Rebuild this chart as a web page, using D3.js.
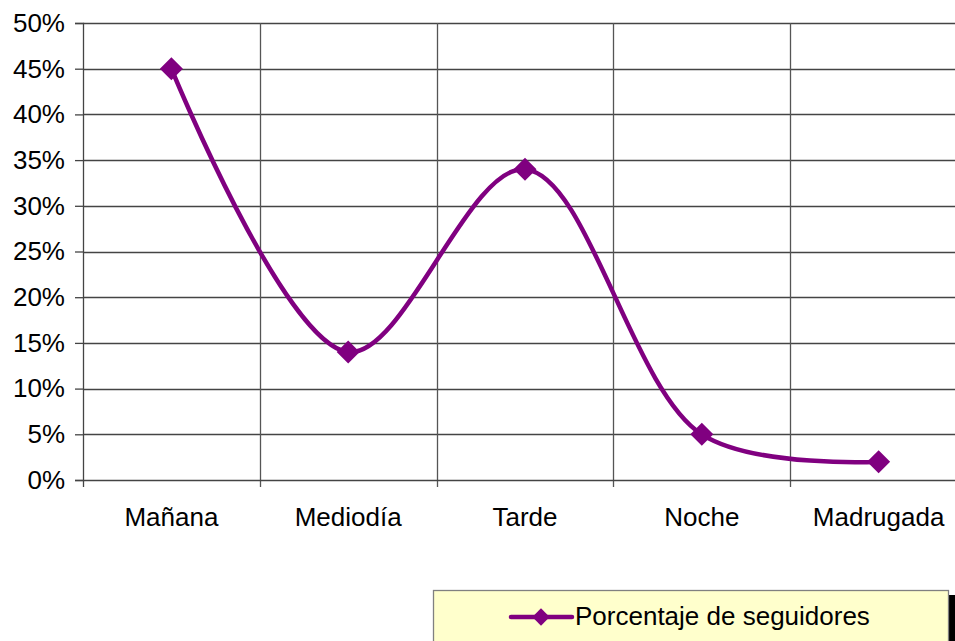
<!DOCTYPE html>
<html>
<head>
<meta charset="utf-8">
<script src="https://cdn.jsdelivr.net/npm/d3@7"></script>
<style>
  body { margin: 0; background: #fff; }
  svg text { font-family: Arial, "Liberation Sans", sans-serif; fill: #000; }
</style>
</head>
<body>
<svg id="chart" width="955" height="641"></svg>
<script>
// Data ////////////////////////////////////////////////////////////////
var categories = ["Mañana", "Mediodía", "Tarde", "Noche", "Madrugada"];
var values = [0.45, 0.14, 0.34, 0.05, 0.02];
var yTicks = [0, 0.05, 0.10, 0.15, 0.20, 0.25, 0.30, 0.35, 0.40, 0.45, 0.50];
var seriesName = "Porcentaje de seguidores";

var points = categories.map(function(c, i) { return {cat: c, val: values[i]} });

var margin = {top: 23, left: 83};
var width = 884;   // plot runs past the right edge of the window
var height = 457;
var purple = "#800080";
var fontSize = 26;

var svg = d3.select("#chart");
var plot = svg.append("g")
    .attr("transform", "translate(" + margin.left + "," + margin.top + ")");

// scales
var x = d3.scaleBand().domain(categories).range([0, width]);
var y = d3.scaleLinear().domain([0, 0.5]).range([height, 0]);

// Horizontal grid lines
plot.selectAll(".hgrid")
    .data(yTicks.slice(1))
    .enter()
    .append("line")
        .attr("x1", 0)
        .attr("x2", width)
        .attr("y1", function(d) { return Math.round(y(d)) + 0.5 })
        .attr("y2", function(d) { return Math.round(y(d)) + 0.5 })
        .attr("stroke", "#444")
        .attr("stroke-width", 1.3);

// Vertical grid lines at category boundaries
plot.selectAll(".vgrid")
    .data(categories.slice(1))
    .enter()
    .append("line")
        .attr("x1", function(d) { return Math.round(x(d)) + 0.5 })
        .attr("x2", function(d) { return Math.round(x(d)) + 0.5 })
        .attr("y1", 0)
        .attr("y2", height + 7)
        .attr("stroke", "#555")
        .attr("stroke-width", 1.3);

// Y axis
var yAxis = d3.axisLeft(y)
    .tickValues(yTicks)
    .tickFormat(d3.format(".0%"))
    .tickSize(8)
    .tickPadding(10);
plot.append("g")
    .attr("class", "y-axis")
    .call(yAxis)
    .call(function(g) {
        g.select(".domain").attr("stroke", "#444").attr("stroke-width", 1.3);
        g.selectAll(".tick line").attr("stroke", "#444").attr("stroke-width", 1.3);
        g.selectAll("text").attr("font-size", fontSize).attr("font-family", "Arial, 'Liberation Sans', sans-serif").attr("fill", "#000");
    });

// X axis: line along 0% plus ticks between categories
plot.append("line")
    .attr("x1", 0).attr("x2", width)
    .attr("y1", Math.round(height) + 0.5).attr("y2", Math.round(height) + 0.5)
    .attr("stroke", "#444").attr("stroke-width", 1.3);
plot.append("line")
    .attr("x1", 0.5).attr("x2", 0.5)
    .attr("y1", height).attr("y2", height + 7)
    .attr("stroke", "#444").attr("stroke-width", 1.3);

plot.selectAll(".x-label")
    .data(categories)
    .enter()
    .append("text")
        .attr("x", function(d) { return x(d) + x.bandwidth() / 2 })
        .attr("y", height + 46)
        .attr("text-anchor", "middle")
        .attr("font-size", fontSize)
        .text(function(d) { return d });

// Smoothed line
var line = d3.line()
    .x(function(d) { return x(d.cat) + x.bandwidth() / 2 })
    .y(function(d) { return y(d.val) })
    .curve(d3.curveCatmullRom.alpha(0.5));

plot.append("path")
    .datum(points)
    .attr("d", line)
    .attr("fill", "none")
    .attr("stroke", purple)
    .attr("stroke-width", 4.5)
    .attr("stroke-linejoin", "round");

// Diamond markers
var diamond = d3.symbol().type(d3.symbolSquare).size(265);
plot.selectAll(".marker")
    .data(points)
    .enter()
    .append("path")
        .attr("d", diamond)
        .attr("transform", function(d) {
            return "translate(" + (x(d.cat) + x.bandwidth() / 2) + "," + y(d.val) + ") rotate(45)";
        })
        .attr("fill", purple);

// Legend
var legend = svg.append("g").attr("transform", "translate(433,590)");
legend.append("rect")
    .attr("x", 7).attr("y", 5)
    .attr("width", 515).attr("height", 60)
    .attr("fill", "#000");
legend.append("rect")
    .attr("x", 0.5).attr("y", 0.5)
    .attr("width", 515).attr("height", 60)
    .attr("fill", "#FFFFCC")
    .attr("stroke", "#808080")
    .attr("stroke-width", 1.3);
legend.append("line")
    .attr("x1", 78).attr("x2", 139)
    .attr("y1", 27).attr("y2", 27)
    .attr("stroke", purple).attr("stroke-width", 4.5)
    .attr("stroke-linecap", "round");
legend.append("path")
    .attr("d", d3.symbol().type(d3.symbolSquare).size(150))
    .attr("transform", "translate(108,27) rotate(45)")
    .attr("fill", purple);
legend.append("text")
    .attr("x", 142)
    .attr("y", 35)
    .attr("font-size", fontSize)
    .text(seriesName);
</script>
</body>
</html>
